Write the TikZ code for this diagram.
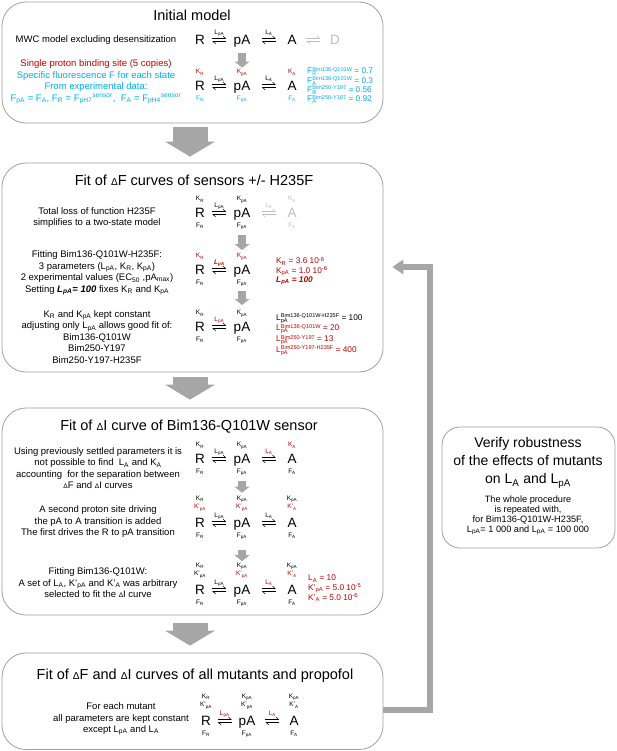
\documentclass[tikz,border=0pt]{standalone}
\usepackage{fontspec}
\setmainfont{Liberation Sans}
\usepackage{xcolor}
\usepackage{tikz}
\usetikzlibrary{positioning,arrows.meta,calc}
\definecolor{kred}{RGB}{192,0,0}
\definecolor{fcyan}{RGB}{0,176,240}
\definecolor{ghost}{RGB}{191,191,191}
\definecolor{flowgray}{RGB}{166,166,166}
\definecolor{boxgray}{RGB}{160,160,160}
\newcommand{\lo}[1]{\textsubscript{#1}}
\newcommand{\hi}[1]{\textsuperscript{#1}}
\newcommand{\lohi}[2]{\rlap{\raisebox{-2pt}{\fontsize{5.6}{6}\selectfont #1}}\raisebox{2.5pt}{\fontsize{5.6}{6}\selectfont #2}}
\newcommand{\dlt}{\scalebox{0.7}{Δ}}
\tikzstyle{panel}=[rectangle, draw=boxgray, line width=0.8pt, rounded corners=24pt, inner sep=0pt]
\tikzstyle{heading}=[font=\fontsize{14.5}{17}\selectfont, inner sep=0pt]
\tikzstyle{txt}=[font=\fontsize{9.5}{11.5}\selectfont, align=center, inner sep=0pt]
\tikzstyle{species}=[font=\fontsize{13.5}{14}\selectfont, inner sep=0pt, text height=9.7pt, text depth=0pt]
\tikzstyle{param}=[font=\fontsize{6.5}{7}\selectfont, inner sep=0pt, text height=4.7pt, text depth=0pt]
\tikzstyle{rate}=[font=\fontsize{6.5}{7}\selectfont, inner sep=0pt]
\tikzstyle{vals}=[font=\fontsize{8.3}{9.3}\selectfont, align=left, anchor=west, inner sep=0pt]
\tikzstyle{harp}=[-{Straight Barb[harpoon,length=2.6pt,width=5pt]}, line width=0.55pt]
\tikzstyle{flow}=[draw=flowgray, line width=35pt, -{Triangle[length=15pt,width=50pt,line width=0pt]}]
\tikzstyle{minor}=[draw=flowgray, line width=8pt, -{Triangle[length=6pt,width=15pt,line width=0pt]}]
\tikzstyle{feedback}=[draw=flowgray, line width=6pt, -{Triangle[length=11pt,width=15pt,line width=0pt]}]
\tikzset{
  kone/.style={param, above=6.8pt of #1},
  kinner/.style={param, above=8.8pt of #1},
  kouter/.style={param, above=3.8pt of #1},
  fdown/.style={param, below=4.3pt of #1},
}
% equilibrium arrows between two species, with the rate above
\newcommand{\equil}[4][black]{%
  \path (#2.east) -- coordinate (#2#3) (#3.west);
  \draw[harp, draw=#1] ([xshift=-7pt,yshift=1.4pt]#2#3) -- ([xshift=7pt,yshift=1.4pt]#2#3);
  \draw[harp, draw=#1] ([xshift=7pt,yshift=-1.4pt]#2#3) -- ([xshift=-7pt,yshift=-1.4pt]#2#3);
  \node[rate, text=#1] at ([yshift=7pt]#2#3) {#4};
}

\begin{document}
\begin{tikzpicture}[x=1pt, y=-1pt]
        \useasboundingbox (0,0) rectangle (617,751);
        \fill[white] (0,0) rectangle (617,751);

        \node[panel, minimum width=381pt, minimum height=121pt] (init) at (192.5,62.5) {};
        \node[panel, minimum width=381pt, minimum height=209pt] (fitF) at (192.5,267.5) {};
        \node[panel, minimum width=381pt, minimum height=207pt] (fitI) at (192.5,511.5) {};
        \node[panel, minimum width=381pt, minimum height=96.5pt] (fitAll) at (192.5,701.25) {};
        \node[panel, rounded corners=18pt, minimum width=173pt, minimum height=121pt] (robust) at (528.5,487.5) {};

        % Initial model
        \node[heading] (tInit) at (192,15) {Initial model};
        \node[txt] (mwc) at (96,40) {MWC model excluding desensitization};
        \node[txt, text=fcyan] (assume) at (96,82) {\textcolor{kred}{Single proton binding site (5 copies)}\\Specific fluorescence F for each state\\From experimental data:\\F\lo{pA} = F\lo{A}, F\lo{R} = F\lo{pH7}\hi{sensor},\ \ F\lo{A} = F\lo{pH4}\hi{sensor}};
        \node[species] (R1) at (200,40) {R};
        \node[species] (pA1) at (242,40) {pA};
        \node[species] (A1) at (292,40) {A};
        \node[species, text=ghost] (D1) at (335,40) {D};
        \equil{R1}{pA1}{L\lo{pA}}
        \equil{pA1}{A1}{L\lo{A}}
        \equil[ghost]{A1}{D1}{}
        \node[species] (R2) at (200,86) {R};
        \node[species] (pA2) at (242,86) {pA};
        \node[species] (A2) at (292,86) {A};
        \node[kone=R2, text=kred] (KR2) {K\lo{R}};
        \node[kone=pA2, text=kred] (KpA2) {K\lo{pA}};
        \node[kone=A2, text=kred] (KA2) {K\lo{A}};
        \node[fdown=R2, text=fcyan] (FR2) {F\lo{R}};
        \node[fdown=pA2, text=fcyan] (FpA2) {F\lo{pA}};
        \node[fdown=A2, text=fcyan] (FA2) {F\lo{A}};
        \equil{R2}{pA2}{L\lo{pA}}
        \equil{pA2}{A2}{L\lo{A}}
        \node[vals, text=fcyan] (fvals) at (307,85.5) {F\lohi{R}{Bim136-Q101W} = 0.7\\F\lohi{A}{Bim136-Q101W} = 0.3\\F\lohi{R}{Bim250-Y197} = 0.56\\F\lohi{A}{Bim250-Y197} = 0.92};
        \draw[minor, shorten <=8pt, shorten >=1.5pt] (pA1) -- (KpA2);

        % Fit of dF curves
        \node[heading] (tFitF) at (194,180) {Fit of \dlt F curves of sensors +/- H235F};
        \node[txt] (loss) at (97,217.5) {Total loss of function H235F\\simplifies to a two-state model};
        \node[species] (R3) at (200,213) {R};
        \node[species] (pA3) at (242,213) {pA};
        \node[species, text=ghost] (A3) at (292,213) {A};
        \node[kone=R3] (KR3) {K\lo{R}};
        \node[kone=pA3] (KpA3) {K\lo{pA}};
        \node[kone=A3, text=ghost] (KA3) {K\lo{A}};
        \node[fdown=R3] (FR3) {F\lo{R}};
        \node[fdown=pA3] (FpA3) {F\lo{pA}};
        \node[fdown=A3, text=ghost] (FA3) {F\lo{A}};
        \equil{R3}{pA3}{L\lo{pA}}
        \equil[ghost]{pA3}{A3}{L\lo{A}}
        \node[txt] (fitting) at (97,273) {Fitting Bim136-Q101W-H235F:\\3 parameters (L\lo{pA}, K\lo{R}, K\lo{pA})\\2 experimental values (EC\lo{50} ,pA\lo{max})\\Setting \textbf{\textit{L\lo{pA}= 100}} fixes K\lo{R} and K\lo{pA}};
        \node[species] (R4) at (200,270) {R};
        \node[species] (pA4) at (242,270) {pA};
        \node[kone=R4, text=kred] (KR4) {K\lo{R}};
        \node[kone=pA4, text=kred] (KpA4) {K\lo{pA}};
        \node[fdown=R4] (FR4) {F\lo{R}};
        \node[fdown=pA4] (FpA4) {F\lo{pA}};
        \equil{R4}{pA4}{\textcolor{kred}{\textbf{\textit{L\lo{pA}}}}}
        \node[vals, text=kred] (kvals) at (276,271) {K\lo{R} = 3.6 10\hi{-6}\\K\lo{pA} = 1.0 10\hi{-6}\\\textbf{\textit{L\lo{pA} = 100}}};
        \node[txt] (kept) at (97,337) {K\lo{R} and K\lo{pA} kept constant\\adjusting only L\lo{pA} allows good fit of:\\Bim136-Q101W\\Bim250-Y197\\Bim250-Y197-H235F};
        \node[species] (R5) at (200,327) {R};
        \node[species] (pA5) at (242,327) {pA};
        \node[kone=R5] (KR5) {K\lo{R}};
        \node[kone=pA5] (KpA5) {K\lo{pA}};
        \node[fdown=R5] (FR5) {F\lo{R}};
        \node[fdown=pA5] (FpA5) {F\lo{pA}};
        \equil{R5}{pA5}{\textcolor{kred}{L\lo{pA}}}
        \node[vals, text=kred] (lvals) at (276,334.5) {\textcolor{black}{L\lohi{pA}{Bim136-Q101W-H235F} = 100}\\L\lohi{pA}{Bim136-Q101W} = 20\\L\lohi{pA}{Bim250-Y197} = 13\\L\lohi{pA}{Bim250-Y197-H235F} = 400};
        \draw[minor, shorten <=8pt, shorten >=3pt] (FpA3) -- (KpA4);
        \draw[minor, shorten <=7pt, shorten >=5pt] (FpA4) -- (KpA5);

        % Fit of dI curve
        \node[heading] (tFitI) at (189,427) {Fit of \dlt I curve of Bim136-Q101W sensor};
        \node[txt] (using) at (98,468) {Using previously settled parameters it is\\not possible to find\ \ L\lo{A} and K\lo{A}\\accounting\ \ for the separation between\\\dlt F and \dlt I curves};
        \node[species] (R6) at (200,459) {R};
        \node[species] (pA6) at (242,459) {pA};
        \node[species] (A6) at (292,459) {A};
        \node[kone=R6] (KR6) {K\lo{R}};
        \node[kone=pA6] (KpA6) {K\lo{pA}};
        \node[kone=A6, text=kred] (KA6) {K\lo{A}};
        \node[fdown=R6] (FR6) {F\lo{R}};
        \node[fdown=pA6] (FpA6) {F\lo{pA}};
        \node[fdown=A6] (FA6) {F\lo{A}};
        \equil{R6}{pA6}{L\lo{pA}}
        \equil{pA6}{A6}{\textcolor{kred}{L\lo{A}}}
        \node[txt] (second) at (98,522) {A second proton site driving\\the pA to A transition is added\\The first drives the R to pA transition};
        \node[species] (R7) at (200,523) {R};
        \node[species] (pA7) at (242,523) {pA};
        \node[species] (A7) at (292,523) {A};
        \node[kinner=R7, text=kred] (KiR7) {K'\lo{pA}};
        \node[kinner=pA7, text=kred] (KipA7) {K'\lo{pA}};
        \node[kinner=A7, text=kred] (KiA7) {K'\lo{A}};
        \node[kouter=KiR7] (KR7) {K\lo{R}};
        \node[kouter=KipA7] (KpA7) {K\lo{pA}};
        \node[kouter=KiA7] (KA7) {K\lo{pA}};
        \node[fdown=R7] (FR7) {F\lo{R}};
        \node[fdown=pA7] (FpA7) {F\lo{pA}};
        \node[fdown=A7] (FA7) {F\lo{A}};
        \equil{R7}{pA7}{L\lo{pA}}
        \equil{pA7}{A7}{L\lo{A}}
        \node[txt] (fitQ) at (98,583) {Fitting Bim136-Q101W:\\A set of L\lo{A}, K'\lo{pA} and K'\lo{A} was arbitrary\\selected to fit the \dlt I curve};
        \node[species] (R8) at (200,590) {R};
        \node[species] (pA8) at (242,590) {pA};
        \node[species] (A8) at (292,590) {A};
        \node[kinner=R8] (KiR8) {K'\lo{pA}};
        \node[kinner=pA8, text=kred] (KipA8) {K'\lo{pA}};
        \node[kinner=A8, text=kred] (KiA8) {K'\lo{A}};
        \node[kouter=KiR8] (KR8) {K\lo{R}};
        \node[kouter=KipA8] (KpA8) {K\lo{pA}};
        \node[kouter=KiA8] (KA8) {K\lo{pA}};
        \node[fdown=R8] (FR8) {F\lo{R}};
        \node[fdown=pA8] (FpA8) {F\lo{pA}};
        \node[fdown=A8] (FA8) {F\lo{A}};
        \equil{R8}{pA8}{L\lo{pA}}
        \equil{pA8}{A8}{\textcolor{kred}{L\lo{A}}}
        \node[vals, text=kred] (avals) at (308,588.5) {L\lo{A} = 10\\K'\lo{pA} = 5.0 10\hi{-5}\\K'\lo{A} = 5.0 10\hi{-6}};
        \draw[minor, shorten <=8pt, shorten >=2.5pt] (FpA6) -- (KpA7);
        \draw[minor, shorten <=12.5pt, shorten >=1pt] (FpA7) -- (KpA8);

        % Fit of all mutants
        \node[heading] (tAll) at (195,676) {Fit of \dlt F and \dlt I curves of all mutants and propofol};
        \node[txt] (each) at (121,719) {For each mutant\\all parameters are kept constant\\except L\lo{pA} and L\lo{A}};
        \node[species] (R9) at (206,721) {R};
        \node[species] (pA9) at (247,721) {pA};
        \node[species] (A9) at (294,721) {A};
        \node[kinner=R9] (KiR9) {K'\lo{pA}};
        \node[kinner=pA9] (KipA9) {K'\lo{pA}};
        \node[kinner=A9] (KiA9) {K'\lo{A}};
        \node[kouter=KiR9] (KR9) {K\lo{R}};
        \node[kouter=KipA9] (KpA9) {K\lo{pA}};
        \node[kouter=KiA9] (KA9) {K\lo{pA}};
        \node[fdown=R9] (FR9) {F\lo{R}};
        \node[fdown=pA9] (FpA9) {F\lo{pA}};
        \node[fdown=A9] (FA9) {F\lo{A}};
        \equil{R9}{pA9}{\textcolor{kred}{L\lo{pA}}}
        \equil{pA9}{A9}{\textcolor{kred}{L\lo{A}}}

        % Robustness
        \node[heading, align=center, font=\fontsize{14}{18}\selectfont] (verify) at (528,463) {Verify robustness\\of the effects of mutants\\on L\lo{A} and L\lo{pA}};
        \node[txt, font=\fontsize{9.2}{10}\selectfont] (whole) at (528,515) {The whole procedure\\is repeated with,\\for Bim136-Q101W-H235F,\\L\lo{pA}= 1 000 and L\lo{pA} = 100 000};

        % flow between the steps
        \coordinate (flowx) at (190,0);
        \draw[flow, shorten <=4pt, shorten >=6pt] (init.south -| flowx) -- (fitF.north -| flowx);
        \draw[flow, shorten <=5pt, shorten >=8pt] (fitF.south -| flowx) -- (fitI.north -| flowx);
        \draw[flow, shorten <=8pt, shorten >=7pt] (fitI.south -| flowx) -- (fitAll.north -| flowx);
        \coordinate (fbturn) at (430,267);
        \draw[feedback, shorten >=9pt] ([yshift=-9pt]fitAll.east) -| (fbturn) -- (fitF.east |- fbturn);
    \end{tikzpicture}
\end{document}
